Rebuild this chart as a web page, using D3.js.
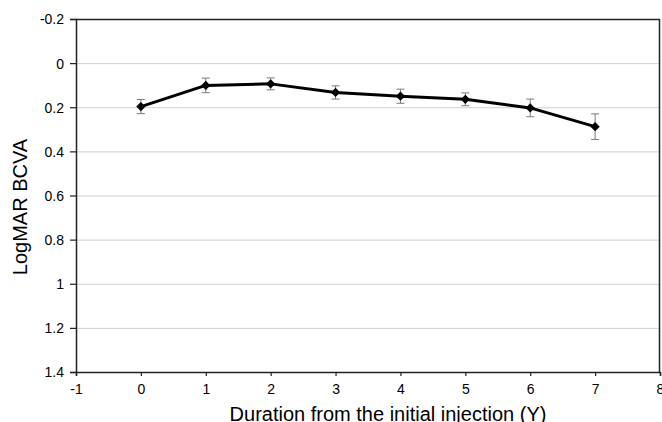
<!DOCTYPE html>
<html>
<head>
<meta charset="utf-8">
<script src="https://cdn.jsdelivr.net/npm/d3@7"></script>
<style>
  body { margin: 0; background: #fff; }
  text { font-family: "Liberation Sans", Arial, sans-serif; fill: #000; }
</style>
</head>
<body>
<div id="chart"></div>
<script>
// years since first injection
const years = [0, 1, 2, 3, 4, 5, 6, 7];
// mean logMAR BCVA
const bcva = [0.197, 0.101, 0.094, 0.133, 0.150, 0.164, 0.203, 0.288];
// error bar half widths
const errs = [0.032, 0.033, 0.027, 0.030, 0.032, 0.029, 0.040, 0.058];

const xTicks = [-1, 0, 1, 2, 3, 4, 5, 6, 7, 8];
const yTicks = [-0.2, 0, 0.2, 0.4, 0.6, 0.8, 1, 1.2, 1.4];

const width = 662, height = 422;
const margin = { top: 19, right: 2, bottom: 50, left: 76 };

const svg = d3.select("#chart").append("svg")
    .attr("width", width)
    .attr("height", height);

let x = d3.scaleLinear()
    .domain([-1, 8])
    .range([margin.left, width - margin.right]);

let y = d3.scaleLinear()
    .domain([-0.2, 1.4])
    .range([margin.top, height - margin.bottom]);

// plain hyphen for negatives, like the original
const fmt = d => String(+d.toFixed(1));

// gridlines
svg.append("g")
    .selectAll("line")
    .data(yTicks.slice(1, -1))
    .enter().append("line")
    .attr("x1", x(-1))
    .attr("x2", x(8))
    .attr("y1", d => y(d) + 0.5)
    .attr("y2", d => y(d) + 0.5)
    .attr("stroke", "#cfcfcf")
    .attr("stroke-width", 1);

// top and right frame
svg.append("path")
    .attr("d", `M${x(-1)},${y(-0.2) + 0.5}H${x(8) - 0.5}V${y(1.4)}`)
    .attr("fill", "none")
    .attr("stroke", "#222")
    .attr("stroke-width", 1.5);

let xAxis = d3.axisBottom(x)
    .tickValues(xTicks)
    .tickSize(4)
    .tickPadding(8)
    .tickFormat(fmt);

let yAxis = d3.axisLeft(y)
    .tickValues(yTicks)
    .tickSize(6)
    .tickPadding(6)
    .tickFormat(fmt);

let gX = svg.append("g")
    .attr("transform", `translate(0,${y(1.4)})`)
    .call(xAxis);

let gY = svg.append("g")
    .attr("transform", `translate(${x(-1)},0)`)
    .call(yAxis);

[gX, gY].forEach(g => {
    g.select(".domain").attr("stroke", "#222").attr("stroke-width", 1.5);
    g.selectAll(".tick line").attr("stroke", "#222").attr("stroke-width", 1.2);
    g.selectAll(".tick text").style("font-size", "14px").attr("fill", "#111");
});
gY.selectAll(".tick text").attr("dy", "0.35em");

// error bars
let eb = svg.append("g").selectAll("g")
    .data(years)
    .enter().append("g")
    .attr("stroke", "#7a7a7a")
    .attr("stroke-width", 1);

eb.append("line")
    .attr("x1", d => x(d))
    .attr("x2", d => x(d))
    .attr("y1", (d, i) => y(bcva[i] - errs[i]))
    .attr("y2", (d, i) => y(bcva[i] + errs[i]));
eb.append("line")
    .attr("x1", d => x(d) - 4)
    .attr("x2", d => x(d) + 4)
    .attr("y1", (d, i) => y(bcva[i] - errs[i]))
    .attr("y2", (d, i) => y(bcva[i] - errs[i]));
eb.append("line")
    .attr("x1", d => x(d) - 4)
    .attr("x2", d => x(d) + 4)
    .attr("y1", (d, i) => y(bcva[i] + errs[i]))
    .attr("y2", (d, i) => y(bcva[i] + errs[i]));

// mean line
let line = d3.line()
    .x((d, i) => x(years[i]))
    .y(d => y(d));

svg.append("path")
    .datum(bcva)
    .attr("d", line)
    .attr("fill", "none")
    .attr("stroke", "#000")
    .attr("stroke-width", 3)
    .attr("stroke-linejoin", "round");

// diamond markers
svg.append("g")
    .selectAll("path")
    .data(bcva)
    .enter().append("path")
    .attr("d", d3.symbol().type(d3.symbolDiamond2).size(55))
    .attr("transform", (d, i) => `translate(${x(years[i])},${y(d)})`)
    .attr("fill", "#000");

// axis titles
svg.append("text")
    .attr("x", 388)
    .attr("y", 421)
    .attr("text-anchor", "middle")
    .style("font-size", "20px")
    .text("Duration from the initial injection (Y)");

svg.append("text")
    .attr("transform", "translate(27,207) rotate(-90)")
    .attr("text-anchor", "middle")
    .style("font-size", "20px")
    .text("LogMAR BCVA");
</script>
</body>
</html>
